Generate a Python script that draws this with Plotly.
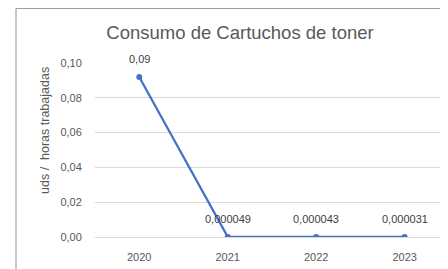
import plotly.graph_objects as go

years = ["2020", "2021", "2022", "2023"]
values = [0.092, 0.000049, 0.000043, 0.000031]
labels = ["0,09", "0,000049", "0,000043", "0,000031"]
title_text = "Consumo de Cartuchos de toner"
ytitle_text = "uds /  horas trabajadas"

# page body adds an 8px offset; build the figure to compensate
OFF = 8
W, H = 448 - OFF, 269 - OFF
L, R, T, B = 95 - OFF, 0, 63 - OFF, 32
pw, ph = W - L - R, H - T - B

font_family = "Liberation Sans, Arial, sans-serif"
grey = "#595959"

fig = go.Figure()
fig.add_trace(go.Scatter(
    x=years, y=values, mode="lines+markers",
    line=dict(color="#4472C4", width=2.25),
    marker=dict(color="#4472C4", size=6),
    hoverinfo="skip", showlegend=False,
))

annotations = []
for i, (yv, t) in enumerate(zip(values, labels)):
    annotations.append(dict(
        x=i, y=yv, xref="x", yref="y", text=t, showarrow=False,
        yshift=18, font=dict(family=font_family, size=11, color="#404040"),
    ))
annotations.append(dict(
    x=(45 - OFF - L) / pw, y=(H - B - (131 - OFF)) / ph,
    xref="paper", yref="paper", text=ytitle_text,
    textangle=-90, showarrow=False, xanchor="center", yanchor="middle",
    font=dict(family=font_family, size=12.5, color=grey),
))

fx0 = (16 - OFF - L) / pw
fy1 = 1 + T / ph - 0.5 / ph
frame = dict(color="#a0a0a0", width=1.2)

fig.update_layout(
    width=W, height=H,
    margin=dict(l=L, r=R, t=T, b=B, pad=0, autoexpand=False),
    paper_bgcolor="white", plot_bgcolor="white",
    separators=",.",
    title=dict(text=title_text, x=(240 - OFF) / W, xanchor="center", xref="container",
               y=1 - (33 - OFF) / H, yanchor="middle", yref="container",
               font=dict(family=font_family, size=18.5, color=grey)),
    xaxis=dict(type="category", range=[-0.5, 3.49], showgrid=False,
               zeroline=False, showline=False, ticks="outside", ticklen=10,
               tickcolor="rgba(0,0,0,0)", automargin=False,
               tickfont=dict(family=font_family, size=11, color=grey)),
    yaxis=dict(range=[0, 0.10], dtick=0.02, tickformat=".2f",
               showgrid=True, gridcolor="#d9d9d9", gridwidth=1,
               zeroline=True, zerolinecolor="#d9d9d9", zerolinewidth=1,
               showline=False, ticks="outside", ticklen=10,
               tickcolor="rgba(0,0,0,0)", automargin=False,
               tickfont=dict(family=font_family, size=11, color=grey)),
    annotations=annotations,
    shapes=[
        dict(type="line", xref="paper", yref="paper", x0=fx0, x1=fx0,
             y0=-0.5, y1=fy1, line=frame, layer="below"),
        dict(type="line", xref="paper", yref="paper", x0=fx0, x1=1.2,
             y0=fy1, y1=fy1, line=frame, layer="below"),
    ],
)

fig.write_html("out.html")
